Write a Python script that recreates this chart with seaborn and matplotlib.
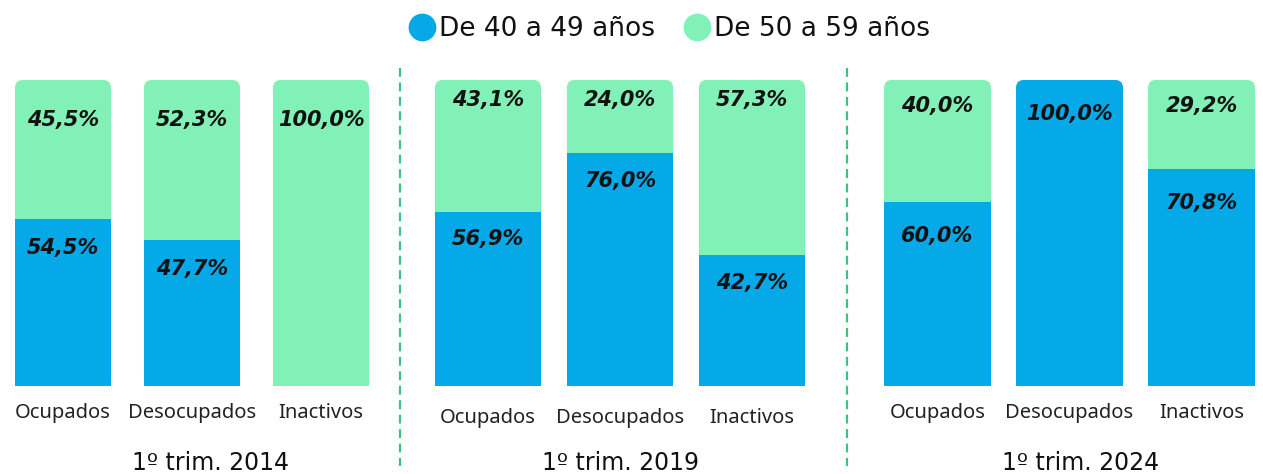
import matplotlib
matplotlib.use("Agg")
import matplotlib.pyplot as plt
import seaborn as sns
from matplotlib.patches import FancyBboxPatch
from matplotlib.lines import Line2D

# data
categorias = ["Ocupados", "Desocupados", "Inactivos"]
periodos = ["1º trim. 2014", "1º trim. 2019", "1º trim. 2024"]
de_40_a_49 = [
    [54.5, 47.7, 0.0],
    [56.9, 76.0, 42.7],
    [60.0, 100.0, 70.8],
]
de_50_a_59 = [
    [45.5, 52.3, 100.0],
    [43.1, 24.0, 57.3],
    [40.0, 0.0, 29.2],
]
series = ["De 40 a 49 años", "De 50 a 59 años"]

AZUL = "#06a9e8"
VERDE = "#82f1b8"
SEPARADOR = "#3cc47c"

sns.set_theme(style="white")
plt.rcParams["font.family"] = ["DejaVu Sans"]

W, H = 1263, 474
fig = plt.figure(figsize=(W / 100, H / 100), dpi=100)

# layout per panel: left px, width px, bar width, tick pad, title x, green/blue label offsets
paneles = [
    (-1.5, 387, 0.745, 12, 0.549, 13, 9.5),
    (422, 396, 0.805, 16, 0.50, 6.5, 9),
    (871.5, 396, 0.81, 12, 0.527, 8.5, 11),
]
bar_bottom, bar_top = 386, 80


def fmt(v):
    return f"{v:.1f}%".replace(".", ",")


def redondear(ax, rect, color, px_x, px_y):
    x, y = rect.get_x(), rect.get_y()
    w, h = rect.get_width(), rect.get_height()
    r = 8 / px_x
    aspect = px_x / px_y
    fb = FancyBboxPatch((x, y), w, h,
                        boxstyle=f"round,pad=0,rounding_size={r}",
                        mutation_aspect=aspect, facecolor=color,
                        edgecolor="none", linewidth=0,
                        zorder=rect.get_zorder())
    ax.add_patch(fb)
    rect.set_height(h * 0.5)


for i, (left, width, bw, tpad, tx, off_v, off_a) in enumerate(paneles):
    ax = fig.add_axes([left / W, (H - bar_bottom) / H, width / W,
                       (bar_bottom - bar_top) / H])
    total = [a + b for a, b in zip(de_40_a_49[i], de_50_a_59[i])]
    sns.barplot(x=categorias, y=total, color=VERDE, saturation=1,
                width=bw, ax=ax, errorbar=None, linewidth=0)
    verdes = list(ax.patches)
    sns.barplot(x=categorias, y=de_40_a_49[i], color=AZUL, saturation=1,
                width=bw, ax=ax, errorbar=None, linewidth=0)
    azules = [p for p in ax.patches if p not in verdes]

    ax.set_xlim(-0.5, 2.5)
    ax.set_ylim(0, 100)
    px_x = width / 3
    px_y = (bar_bottom - bar_top) / 100

    for p in verdes:
        p.set_edgecolor("none")
        redondear(ax, p, VERDE, px_x, px_y)
    for p in azules:
        p.set_edgecolor("none")
        p.set_zorder(3)
        if p.get_height() >= 99.9:
            redondear(ax, p, AZUL, px_x, px_y)

    for j, cat in enumerate(categorias):
        azul = de_40_a_49[i][j]
        verde = de_50_a_59[i][j]
        if verde > 0:
            ax.text(j, 100 - off_v, fmt(verde), ha="center", va="center",
                    fontsize=15, fontweight="bold", fontstyle="italic",
                    color="#111111", zorder=5)
        if azul > 0:
            ax.text(j, azul - off_a, fmt(azul), ha="center", va="center",
                    fontsize=15, fontweight="bold", fontstyle="italic",
                    color="#111111", zorder=5)

    ax.set_yticks([])
    ax.tick_params(axis="x", length=0, pad=tpad, labelsize=14.5,
                   labelcolor="#222222")
    for lab in ax.get_xticklabels():
        lab.set_fontfamily(["Noto Sans", "DejaVu Sans"])
    ax.set_xlabel(periodos[i], fontsize=17, color="#111111")
    ax.xaxis.set_label_coords(tx, -0.25)
    ax.xaxis.label.set_va("center")
    ax.set_ylabel("")
    sns.despine(ax=ax, left=True, bottom=True)
    ax.set_facecolor("none")

# dashed separators between periods
for xs in (400, 847):
    fig.add_artist(Line2D([xs / W, xs / W], [(H - 68) / H, (H - 466) / H],
                          transform=fig.transFigure, color=SEPARADOR,
                          linestyle=(0, (4, 2.5)), linewidth=1.6))

handles = [Line2D([], [], marker="o", linestyle="none", markersize=20,
                  markerfacecolor=c, markeredgecolor="none")
           for c in (AZUL, VERDE)]
fig.legend(handles, series, loc="center", bbox_to_anchor=(668 / W, (H - 29) / H),
           ncol=2, frameon=False, fontsize=19, handletextpad=0.05,
           columnspacing=1.0, handlelength=1.2, labelcolor="#111111")

fig.savefig("out.png", dpi=100)
